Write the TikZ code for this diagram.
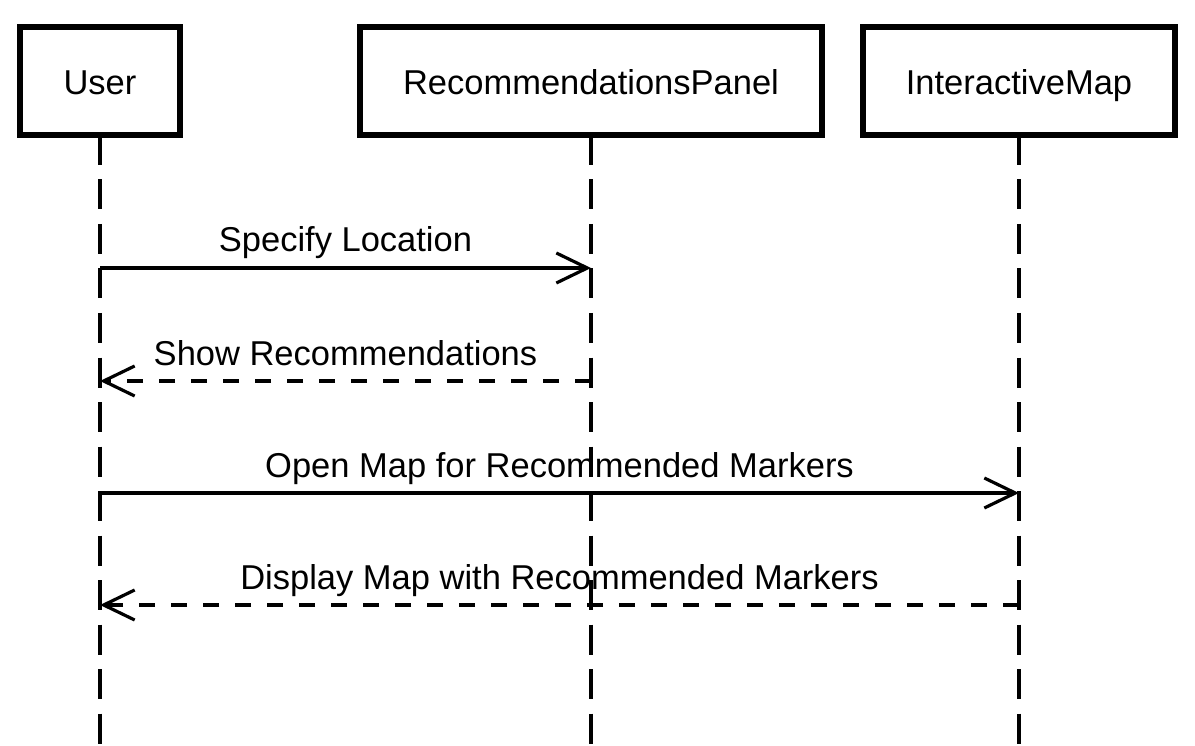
\documentclass[tikz,border=0pt]{standalone}
\usepackage{fontspec}
\setmainfont{Liberation Sans}
\usetikzlibrary{arrows.meta, positioning}

\begin{document}
\begin{tikzpicture}[x=1pt, y=-1pt, >={Straight Barb[length=31pt, width=30pt]},
    actor/.style={draw, line width=6.5pt, fill=white, minimum height=108pt,
        inner sep=0pt, outer sep=0pt, text height=28pt, text depth=0pt,
        font=\fontsize{34.5}{40}\selectfont},
    lifeline/.style={line width=3.2pt, dash pattern=on 30pt off 14.5pt},
    call/.style={->, line width=3.2pt},
    reply/.style={call, dash pattern=on 16pt off 16pt},
    msg/.style={anchor=base, yshift=16pt, font=\fontsize{34.5}{40}\selectfont}]
    \useasboundingbox (0,0) rectangle (1195,746);

    % 1. Các đối tượng
    \node[actor, minimum width=160pt] (user) at (100,81) {User};
    \node[actor, minimum width=462pt] (panel) at (591,81) {RecommendationsPanel};
    \node[actor, minimum width=312pt] (map) at (1019,81) {InteractiveMap};

    % 2. Đường đời
    \draw[lifeline] (user.south) -- (user.south |- 0,746);
    \draw[lifeline] (panel.south) -- (panel.south |- 0,746);
    \draw[lifeline] (map.south) -- (map.south |- 0,746);

    % 3. Điểm trên đường đời
    \foreach \y/\n in {268/1, 381/2, 493/3, 605/4} {
        \coordinate (user-\n) at (user |- 0,\y);
        \coordinate (panel-\n) at (panel |- 0,\y);
        \coordinate (map-\n) at (map |- 0,\y);
    }

    % 4. Các thông điệp
    \draw[call] (user-1) -- node[msg] {Specify Location} (panel-1);
    \draw[reply] (panel-2) -- node[msg] {Show Recommendations} (user-2);
    \draw[call] (user-3) -- node[msg] {Open Map for Recommended Markers} (map-3);
    \draw[reply] (map-4) -- node[msg] {Display Map with Recommended Markers} (user-4);
\end{tikzpicture}
\end{document}
